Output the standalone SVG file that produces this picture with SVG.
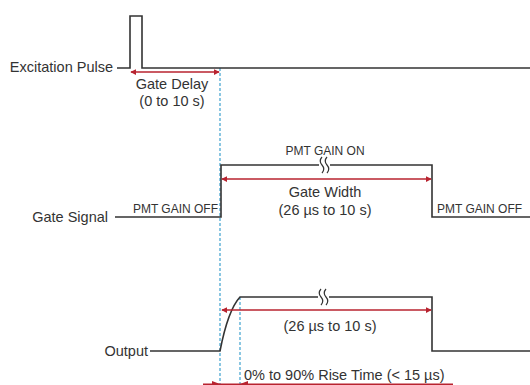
<svg xmlns="http://www.w3.org/2000/svg" width="530" height="385" viewBox="0 0 530 385">
<style>
  .sig{fill:none;stroke:#333;stroke-width:1.6}
  .lbl{font-family:"Liberation Sans",Arial,sans-serif;font-size:14.5px;fill:#333}
  .sm{font-family:"Liberation Sans",Arial,sans-serif;font-size:12px;fill:#333}
  .red{fill:none;stroke:#b8232f;stroke-width:1.4}
  .blue{fill:none;stroke:#5aafd6;stroke-width:1.4;stroke-dasharray:3 2}
  .brk{fill:none;stroke:#333;stroke-width:1.2}
</style>
<defs>
  <marker id="ah" viewBox="0 0 8 8" refX="7" refY="4" markerWidth="6" markerHeight="6" orient="auto-start-reverse" markerUnits="userSpaceOnUse">
    <path d="M0,0 L8,4 L0,8 z" fill="#b8232f"/>
  </marker>
</defs>
<rect width="530" height="385" fill="#fff"/>

<g id="guides">
  <line class="blue" x1="220" y1="68" x2="220" y2="385"/>
  <line class="blue" x1="240" y1="297" x2="240" y2="385"/>
</g>

<g id="excitation">
  <text class="lbl" x="113" y="72" text-anchor="end">Excitation Pulse</text>
  <path class="sig" d="M117,68 H130 V16 H142 V68 H530"/>
</g>

<g id="gate">
  <text class="lbl" x="108" y="222" text-anchor="end">Gate Signal</text>
  <path class="sig" d="M115,217 H221 V165 H432 V217 H530"/>
  <text class="sm" x="218" y="213" text-anchor="end">PMT GAIN OFF</text>
  <text class="sm" x="325" y="155" text-anchor="middle">PMT GAIN ON</text>
  <text class="sm" x="437" y="213">PMT GAIN OFF</text>
  <g>
    <rect x="319" y="162" width="11" height="6" fill="#fff"/>
    <path class="brk" d="M322,157 q-3.5,4 0,8 q3.5,4 0,8"/>
    <path class="brk" d="M327,157 q-3.5,4 0,8 q3.5,4 0,8"/>
  </g>
</g>

<g id="output">
  <text class="lbl" x="148" y="356" text-anchor="end">Output</text>
  <path class="sig" d="M150,351 H220 Q228,310 240,297 H432 V351 H530"/>
  <g>
    <rect x="318" y="294" width="11" height="6" fill="#fff"/>
    <path class="brk" d="M321,289 q-3.5,4 0,8 q3.5,4 0,8"/>
    <path class="brk" d="M326,289 q-3.5,4 0,8 q3.5,4 0,8"/>
  </g>
</g>

<g id="connectors">
  <line class="red" x1="131" y1="72" x2="219" y2="72" marker-start="url(#ah)" marker-end="url(#ah)"/>
  <line class="red" x1="222" y1="179" x2="431" y2="179" marker-start="url(#ah)" marker-end="url(#ah)"/>
  <line class="red" x1="222" y1="310" x2="431" y2="310" marker-start="url(#ah)" marker-end="url(#ah)"/>
  <line x1="203" y1="384.5" x2="453" y2="384.5" stroke="#b8232f" stroke-width="2"/>
  <path d="M212,381 L220,384 L212,387 z M248,381 L240,384 L248,387 z" fill="#b8232f"/>
</g>

<g id="labels">
  <text class="lbl" x="172" y="89" text-anchor="middle">Gate Delay</text>
  <text class="lbl" x="172" y="106" text-anchor="middle">(0 to 10 s)</text>
  <text class="lbl" x="325" y="197" text-anchor="middle">Gate Width</text>
  <text class="lbl" x="325" y="215" text-anchor="middle">(26 µs to 10 s)</text>
  <text class="lbl" x="330" y="331" text-anchor="middle">(26 µs to 10 s)</text>
  <text class="lbl" x="244" y="380">0% to 90% Rise Time (&lt; 15 µs)</text>
</g>
</svg>
